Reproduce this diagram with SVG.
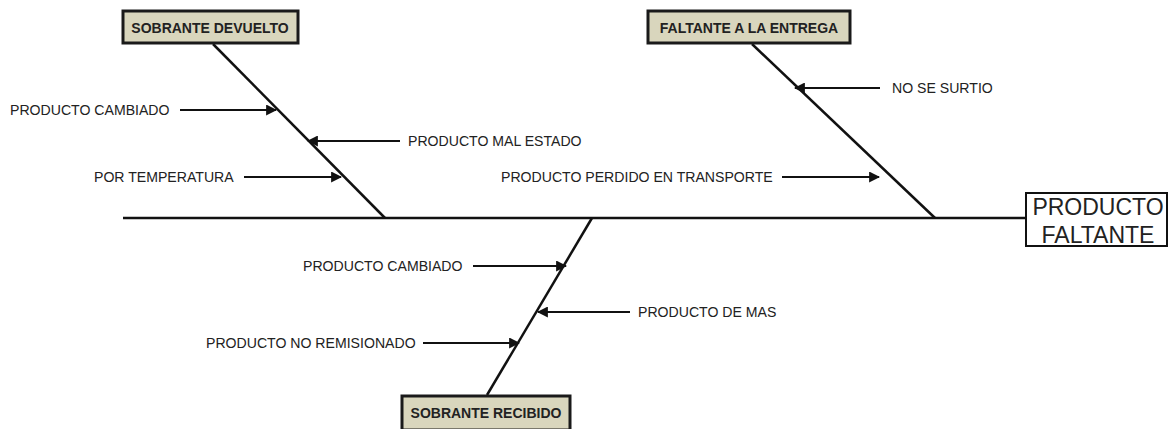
<svg xmlns="http://www.w3.org/2000/svg" width="1169" height="429" viewBox="0 0 1169 429">
<style>
.lbl{font-family:"Liberation Sans",Arial,sans-serif;font-size:14.1px;fill:#222;}
.cat{font-family:"Liberation Sans",Arial,sans-serif;font-size:14px;font-weight:bold;fill:#222;}
.catbox{fill:#d9d6bd;stroke:#1a1a1a;stroke-width:3;}
.bone{stroke:#111;stroke-width:2.5;fill:none;}
.arr{stroke:#111;stroke-width:2;fill:none;marker-end:url(#ah);}
</style>
<defs>
<marker id="ah" viewBox="0 0 10 10" refX="9" refY="5" markerWidth="5.5" markerHeight="5.5" orient="auto" markerUnits="strokeWidth">
<path d="M0,0 L10,5 L0,10 Z" fill="#111"/>
</marker>
</defs>
<rect width="1169" height="429" fill="#fff"/>
<g id="connectors">
<line class="bone" x1="123" y1="218" x2="1026" y2="218"/>
<line class="bone" x1="213" y1="44" x2="385" y2="218"/>
<line class="bone" x1="752" y1="44" x2="935" y2="218"/>
<line class="bone" x1="592" y1="218" x2="487" y2="395"/>
<line class="arr" x1="180" y1="110" x2="276" y2="110"/>
<line class="arr" x1="400" y1="141" x2="308" y2="141"/>
<line class="arr" x1="244" y1="177" x2="341" y2="177"/>
<line class="arr" x1="880" y1="88" x2="795" y2="88"/>
<line class="arr" x1="782" y1="177" x2="879" y2="177"/>
<line class="arr" x1="473" y1="266" x2="566" y2="266"/>
<line class="arr" x1="630" y1="312" x2="538" y2="312"/>
<line class="arr" x1="423" y1="343" x2="519" y2="343"/>
</g>
<g id="effect">
<rect x="1026" y="193" width="141" height="53" fill="#fff" stroke="#111" stroke-width="2"/>
<text x="1098" y="215" text-anchor="middle" font-family="'Liberation Sans',Arial,sans-serif" font-size="23" fill="#222">PRODUCTO</text>
<text x="1098" y="243" text-anchor="middle" font-family="'Liberation Sans',Arial,sans-serif" font-size="23" fill="#222">FALTANTE</text>
</g>
<g id="cat-sobrante-devuelto">
<rect class="catbox" x="123" y="11" width="175" height="32"/>
<text class="cat" x="210" y="33" text-anchor="middle">SOBRANTE DEVUELTO</text>
</g>
<g id="cat-faltante-entrega">
<rect class="catbox" x="648" y="11" width="202" height="32"/>
<text class="cat" x="749" y="33" text-anchor="middle">FALTANTE A LA ENTREGA</text>
</g>
<g id="cat-sobrante-recibido">
<rect class="catbox" x="402" y="396" width="168" height="34"/>
<text class="cat" x="486" y="418" text-anchor="middle">SOBRANTE RECIBIDO</text>
</g>
<g id="c1"><text class="lbl" x="10" y="115">PRODUCTO CAMBIADO</text></g>
<g id="c2"><text class="lbl" x="408" y="146">PRODUCTO MAL ESTADO</text></g>
<g id="c3"><text class="lbl" x="94" y="182">POR TEMPERATURA</text></g>
<g id="c4"><text class="lbl" x="892" y="93">NO SE SURTIO</text></g>
<g id="c5"><text class="lbl" x="501" y="182">PRODUCTO PERDIDO EN TRANSPORTE</text></g>
<g id="c6"><text class="lbl" x="303" y="271">PRODUCTO CAMBIADO</text></g>
<g id="c7"><text class="lbl" x="638" y="317">PRODUCTO DE MAS</text></g>
<g id="c8"><text class="lbl" x="206" y="348">PRODUCTO NO REMISIONADO</text></g>
</svg>
